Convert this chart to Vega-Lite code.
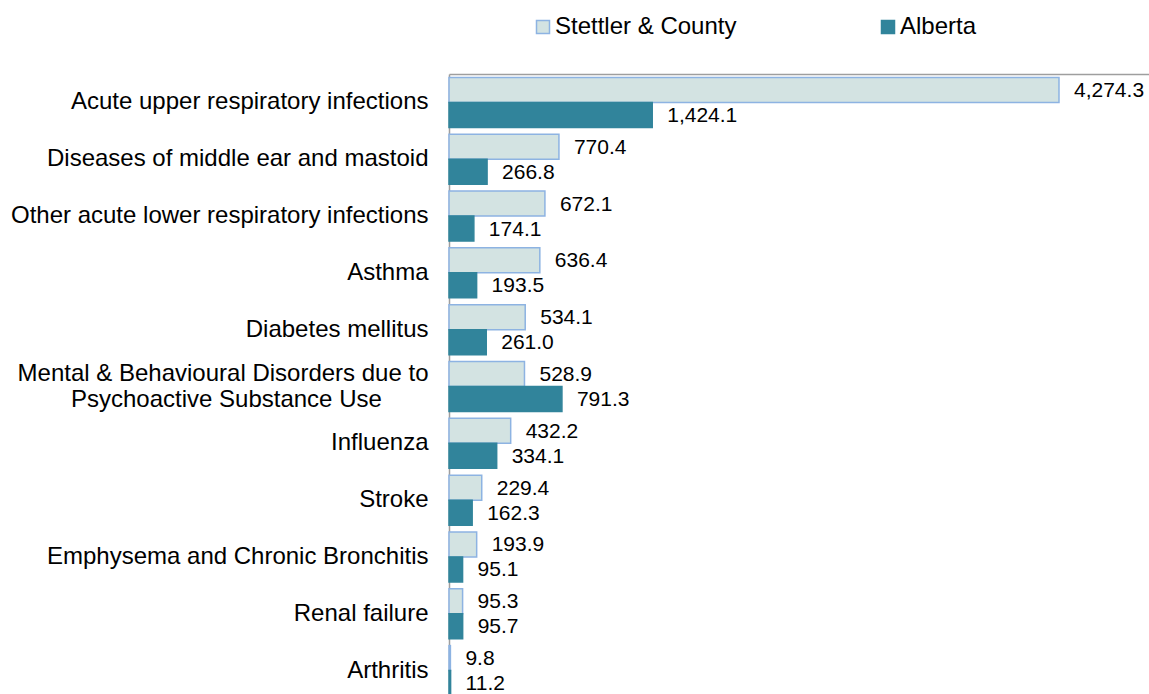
{
  "$schema": "https://vega.github.io/schema/vega-lite/v6.json",
  "autosize": {"type": "none"},
  "padding": {"top": 74, "left": 449, "right": 0, "bottom": 0},
  "width": 700,
  "height": 620,
  "background": "white",
  "config": {"view": {"stroke": null}, "font": "Liberation Sans"},
  "data": {
    "values": [
      {"condition": "Acute upper respiratory infections", "region": "Stettler & County", "rate": 4274.3},
      {"condition": "Acute upper respiratory infections", "region": "Alberta", "rate": 1424.1},
      {"condition": "Diseases of middle ear and mastoid", "region": "Stettler & County", "rate": 770.4},
      {"condition": "Diseases of middle ear and mastoid", "region": "Alberta", "rate": 266.8},
      {"condition": "Other acute lower respiratory infections", "region": "Stettler & County", "rate": 672.1},
      {"condition": "Other acute lower respiratory infections", "region": "Alberta", "rate": 174.1},
      {"condition": "Asthma", "region": "Stettler & County", "rate": 636.4},
      {"condition": "Asthma", "region": "Alberta", "rate": 193.5},
      {"condition": "Diabetes mellitus", "region": "Stettler & County", "rate": 534.1},
      {"condition": "Diabetes mellitus", "region": "Alberta", "rate": 261.0},
      {"condition": "Mental & Behavioural Disorders due to Psychoactive Substance Use", "region": "Stettler & County", "rate": 528.9},
      {"condition": "Mental & Behavioural Disorders due to Psychoactive Substance Use", "region": "Alberta", "rate": 791.3},
      {"condition": "Influenza", "region": "Stettler & County", "rate": 432.2},
      {"condition": "Influenza", "region": "Alberta", "rate": 334.1},
      {"condition": "Stroke", "region": "Stettler & County", "rate": 229.4},
      {"condition": "Stroke", "region": "Alberta", "rate": 162.3},
      {"condition": "Emphysema and Chronic Bronchitis", "region": "Stettler & County", "rate": 193.9},
      {"condition": "Emphysema and Chronic Bronchitis", "region": "Alberta", "rate": 95.1},
      {"condition": "Renal failure", "region": "Stettler & County", "rate": 95.3},
      {"condition": "Renal failure", "region": "Alberta", "rate": 95.7},
      {"condition": "Arthritis", "region": "Stettler & County", "rate": 9.8},
      {"condition": "Arthritis", "region": "Alberta", "rate": 11.2}
    ]
  },
  "encoding": {
    "y": {
      "field": "condition",
      "type": "nominal",
      "sort": null,
      "scale": {"range": [0, 625], "paddingInner": 0.12, "paddingOuter": 0.06},
      "axis": {
        "title": null,
        "domain": true,
        "domainColor": "#9E9E9E",
        "domainWidth": 1.5,
        "ticks": false,
        "labelFontSize": 24,
        "labelColor": "black",
        "labelLimit": 0,
        "labelLineHeight": 26,
        "labelBaseline": "middle",
        "labelPadding": 21,
        "labelExpr": "datum.value == 'Mental & Behavioural Disorders due to Psychoactive Substance Use' ? ['Mental & Behavioural Disorders due to', 'Psychoactive Substance Use\u00a0\u00a0\u00a0\u00a0\u00a0\u00a0\u00a0\u2060'] : datum.label",
        "labelOffset": {"condition": {"test": "indexof(datum.value, 'Mental') == 0", "value": -13}, "value": 0}
      }
    },
    "yOffset": {
      "field": "region",
      "type": "nominal",
      "sort": ["Stettler & County", "Alberta"],
      "scale": {"paddingInner": 0, "paddingOuter": 0}
    },
    "x": {
      "field": "rate",
      "type": "quantitative",
      "scale": {"domain": [0, 4905], "nice": false},
      "axis": {
        "orient": "top",
        "title": null,
        "labels": false,
        "ticks": false,
        "grid": false,
        "domain": true,
        "domainColor": "#9E9E9E",
        "domainWidth": 1.5
      }
    }
  },
  "layer": [
    {
      "mark": {"type": "bar", "strokeWidth": 1.5},
      "encoding": {
        "fill": {
          "field": "region",
          "type": "nominal",
          "sort": ["Stettler & County", "Alberta"],
          "scale": {"domain": ["Stettler & County", "Alberta"], "range": ["#D3E3E2", "#31849B"]},
          "legend": {
            "title": null,
            "orient": "none",
            "legendX": 82,
            "legendY": -59,
            "direction": "horizontal",
            "symbolType": "square",
            "symbolSize": 169,
            "symbolStrokeWidth": 1.5,
            "labelFontSize": 24,
            "labelColor": "black",
            "labelLimit": 0,
            "labelOffset": 0,
            "columnPadding": 139,
            "padding": 0
          }
        },
        "stroke": {
          "field": "region",
          "type": "nominal",
          "sort": ["Stettler & County", "Alberta"],
          "scale": {"domain": ["Stettler & County", "Alberta"], "range": ["#8DB3E2", "#31849B"]},
          "legend": {
            "title": null,
            "orient": "none",
            "legendX": 82,
            "legendY": -59,
            "direction": "horizontal",
            "symbolType": "square",
            "symbolSize": 169,
            "symbolStrokeWidth": 1.5,
            "labelFontSize": 24,
            "labelColor": "black",
            "labelLimit": 0,
            "labelOffset": 0,
            "columnPadding": 139,
            "padding": 0
          }
        }
      }
    },
    {
      "mark": {"type": "text", "align": "left", "baseline": "middle", "dx": 15, "dy": 1, "fontSize": 21, "color": "black"},
      "encoding": {
        "text": {"field": "rate", "type": "quantitative", "format": ",.1f"}
      }
    }
  ]
}
